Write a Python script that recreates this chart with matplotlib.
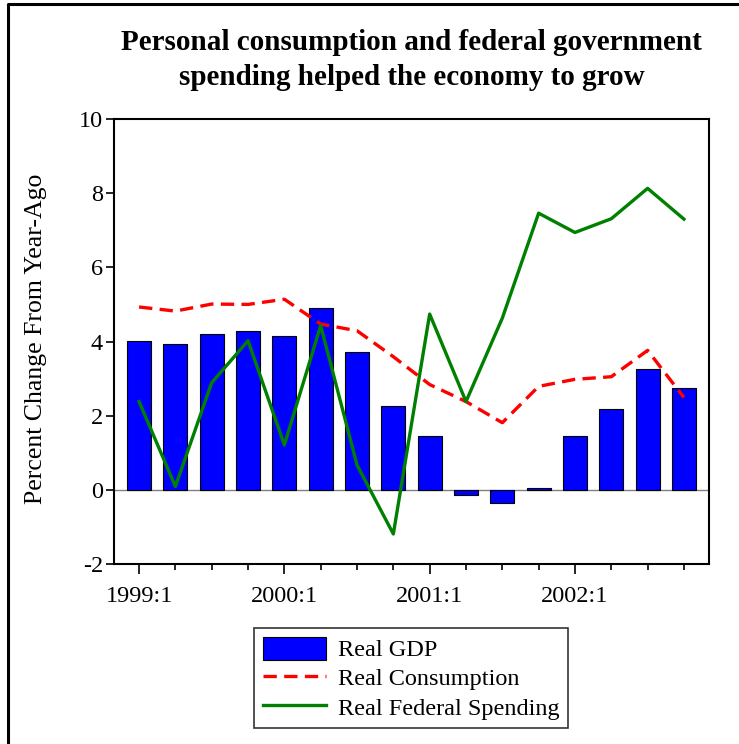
import matplotlib
matplotlib.use("Agg")
import matplotlib.pyplot as plt
from matplotlib.lines import Line2D
from matplotlib.ticker import FixedLocator

plt.rcParams['font.family'] = ['Liberation Serif', 'DejaVu Serif']

# Quarterly growth, percent change from a year ago
quarters = ['1999:1', '1999:2', '1999:3', '1999:4',
            '2000:1', '2000:2', '2000:3', '2000:4',
            '2001:1', '2001:2', '2001:3', '2001:4',
            '2002:1', '2002:2', '2002:3', '2002:4']
real_gdp = [4.01, 3.93, 4.20, 4.29, 4.16, 4.90, 3.73, 2.26,
            1.46, -0.15, -0.35, 0.05, 1.44, 2.17, 3.26, 2.74]
real_consumption = [4.93, 4.82, 5.01, 5.00, 5.14, 4.47, 4.29, 3.59,
                    2.84, 2.38, 1.81, 2.79, 2.98, 3.05, 3.76, 2.49]
real_federal = [2.38, 0.09, 2.89, 4.02, 1.21, 4.43, 0.67, -1.19,
                4.74, 2.38, 4.63, 7.46, 6.94, 7.31, 8.13, 7.30]

W, H = 739, 744
fig = plt.figure(figsize=(W / 100, H / 100), dpi=100)
ax = fig.add_axes([114 / W, 1 - 564 / H, (709 - 114) / W, (564 - 119) / H])

x = list(range(len(quarters)))
ax.bar(x, real_gdp, width=0.66, color='#0000FF', edgecolor='black',
       linewidth=0.8, label='Real GDP', zorder=2)
ax.axhline(0, color='#808080', linewidth=1, zorder=1)
ax.plot(x, real_consumption, color='#FF0000', linewidth=2.4,
        dashes=(4, 2.2), label='Real Consumption', zorder=3)
ax.plot(x, real_federal, color='#008000', linewidth=2.4,
        label='Real Federal Spending', zorder=3)

ax.set_xlim(-0.69, len(quarters) - 1 + 0.69)
ax.set_ylim(-2, 10)
ax.set_yticks(range(-2, 11, 2))
ax.set_yticklabels([str(v) for v in range(-2, 11, 2)])

major = [i for i, q in enumerate(quarters) if q.endswith(':1')]
ax.xaxis.set_major_locator(FixedLocator(major))
ax.xaxis.set_minor_locator(FixedLocator([i for i in x if i not in major]))
ax.set_xticklabels([quarters[i] for i in major])

ax.tick_params(axis='both', which='both', direction='out', colors='black',
               labelsize=17.5, width=1.2)
ax.tick_params(axis='x', which='major', length=7.5, pad=8)
ax.tick_params(axis='x', which='minor', length=4.5)
ax.tick_params(axis='y', length=6, pad=2)
for s in ax.spines.values():
    s.set_linewidth(1.5)

ax.set_ylabel('Percent Change From Year-Ago', fontsize=18.5)
ax.yaxis.set_label_coords(-0.113, 0.505)

fig.text((114 + 709) / 2 / W, 1 - 60 / H,
         'Personal consumption and federal government\n'
         'spending helped the economy to grow',
         ha='center', va='center', fontsize=21, fontweight='bold',
         linespacing=1.4)

handles, labels = ax.get_legend_handles_labels()
order = [2, 0, 1]
leg = fig.legend([handles[i] for i in order], [labels[i] for i in order],
                 loc='upper center', bbox_to_anchor=(411 / W, 1 - 628 / H),
                 fontsize=17.5, frameon=True, fancybox=False, shadow=False,
                 handlelength=2.6, handleheight=1.1, labelspacing=0.17,
                 borderpad=0.35, handletextpad=0.5, borderaxespad=0)
leg.get_frame().set_edgecolor('black')
leg.get_frame().set_linewidth(1.2)

# partial page frame along the top and left edges
fig.add_artist(Line2D([7.5 / W, 7.5 / W, 1], [0, 1 - 3.5 / H, 1 - 3.5 / H],
                      transform=fig.transFigure, color='black', linewidth=2.2))

fig.savefig('out.png', dpi=100)
